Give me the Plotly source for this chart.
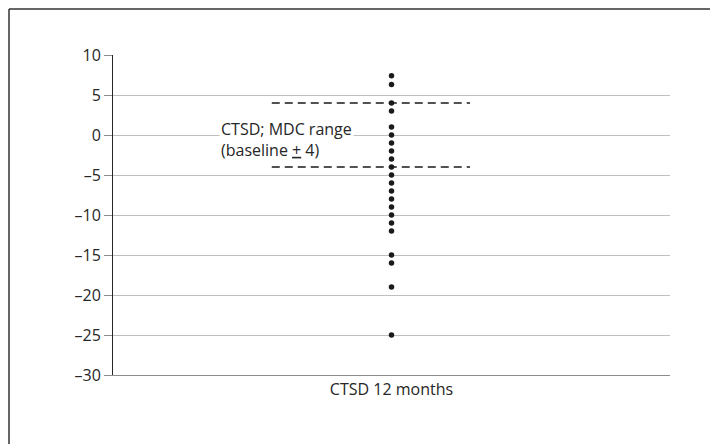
import plotly.graph_objects as go

category = "CTSD 12 months"
change_values = [7.4, 6.3, 4, 3, 1, 0, -1, -2, -3, -4, -5, -6, -7, -8, -9, -10, -11, -12, -15, -16, -19, -25]
mdc_bounds = [4, -4]
y_ticks = [10, 5, 0, -5, -10, -15, -20, -25, -30]
y_tick_labels = ["10", "5", "0", "–5", "–10", "–15", "–20", "–25", "–30"]

FONT = "Open Sans, Noto Sans, DejaVu Sans, sans-serif"

fig = go.Figure()
fig.add_trace(go.Scatter(
    x=[category] * len(change_values),
    y=change_values,
    mode="markers",
    marker=dict(color="#1a1a1a", size=5.5),
    showlegend=False,
    hoverinfo="y",
))

for b in mdc_bounds:
    fig.add_shape(type="line", xref="x", yref="y", x0=-0.215, x1=0.141, y0=b, y1=b,
                  line=dict(color="#1a1a1a", width=1.5, dash="8px,5px"), layer="above")

fig.add_annotation(
    x=-0.31, y=-0.5, xref="x", yref="y", xanchor="left", yanchor="middle",
    text="CTSD; MDC range<br>(baseline <u>+</u> 4)",
    showarrow=False, align="left", bgcolor="white",
    font=dict(family=FONT, size=16, color="#262626"),
    borderpad=1,
)

# outer frame (left and top edges visible; right/bottom lie outside the page)
fig.add_shape(type="line", xref="paper", yref="paper", x0=-0.1867, x1=-0.1867, y0=-0.5, y1=1.144,
              line=dict(color="#333333", width=1.5), layer="below")
fig.add_shape(type="line", xref="paper", yref="paper", x0=-0.1867, x1=1.5, y0=1.144, y1=1.144,
              line=dict(color="#333333", width=1.5), layer="below")

fig.update_layout(
    width=710, height=436,
    margin=dict(l=105, r=48, t=47, b=69),
    paper_bgcolor="white", plot_bgcolor="white",
    font=dict(family=FONT, size=16, color="#262626"),
    showlegend=False,
)
fig.update_xaxes(
    type="category", range=[-0.5, 0.5],
    showgrid=False, showline=True, linecolor="#8c8c8c", linewidth=1.2,
    ticks="", tickfont=dict(size=16, color="#262626"),
    zeroline=False,
)
fig.update_yaxes(
    range=[-30, 10], tickvals=y_ticks, ticktext=y_tick_labels,
    showgrid=True, gridcolor="#bfbfbf", gridwidth=1.2,
    showline=True, linecolor="#262626", linewidth=1,
    ticks="outside", ticklen=8, tickcolor="#8c8c8c", tickwidth=1.2,
    tickfont=dict(size=16, color="#262626"),
    zeroline=False,
)

fig.write_html("out.html")
